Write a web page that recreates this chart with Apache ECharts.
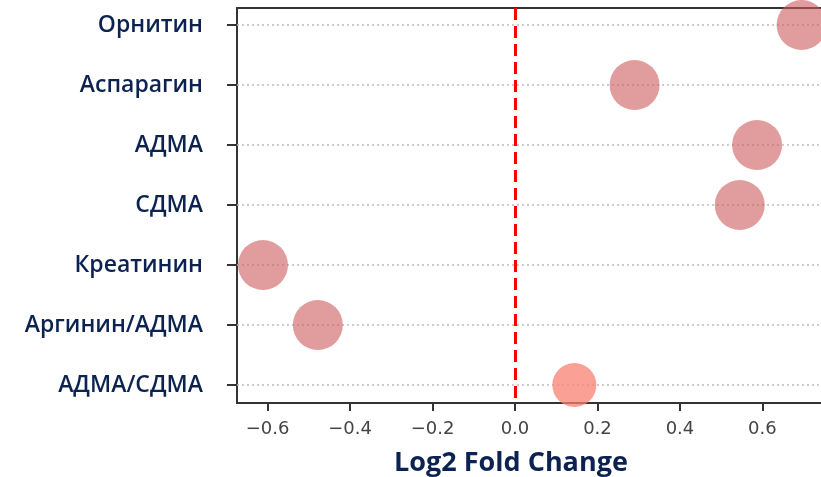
<!DOCTYPE html>
<html>
<head>
<meta charset="utf-8">
<script src="https://cdn.jsdelivr.net/npm/echarts@6/dist/echarts.min.js"></script>
<style>
  html, body { margin: 0; padding: 0; background: #fff; }
  #chart { width: 821px; height: 477px; }
</style>
</head>
<body>
<div id="chart"></div>
<script>
// Metabolites, top to bottom
const categories = ['Орнитин', 'Аспарагин', 'АДМА', 'СДМА', 'Креатинин', 'Аргинин/АДМА', 'АДМА/СДМА'];
// log2 fold change per metabolite
const foldChange = [0.695, 0.290, 0.587, 0.545, -0.611, -0.478, 0.144];
// marker diameters
const markerSize = [50, 50, 50, 50, 50, 50, 44];
// marker colours
const markerColor = [
  'rgba(205,92,92,0.6)', 'rgba(205,92,92,0.6)', 'rgba(205,92,92,0.6)', 'rgba(205,92,92,0.6)',
  'rgba(205,92,92,0.6)', 'rgba(205,92,92,0.6)', 'rgba(250,128,114,0.75)'
];
// x-axis tick values
const xTicks = [-0.6, -0.4, -0.2, 0.0, 0.2, 0.4, 0.6];
const yTicks = categories.map((_, i) => i);

const navy = '#0c2352';
const frame = '#333333';

const points = foldChange.map((v, i) => ({
  value: [v, i],
  symbolSize: markerSize[i],
  itemStyle: { color: markerColor[i], opacity: 1 }
}));

const chart = echarts.init(document.getElementById('chart'), null, { renderer: 'canvas' });
chart.setOption({
  animation: false,
  grid: { left: 237, right: 0, top: 8, bottom: 74, containLabel: false, outerBoundsMode: 'none' },
  xAxis: [{
    type: 'value',
    min: -0.674,
    max: 0.742,
    position: 'bottom',
    name: 'Log2 Fold Change',
    nameLocation: 'middle',
    nameGap: 47,
    nameTextStyle: {
      fontFamily: 'Open Sans', fontWeight: 'bold', fontSize: 27, color: navy,
      padding: [0, 36, 0, 0]
    },
    axisLine: { show: true, onZero: false, lineStyle: { color: frame, width: 2 } },
    axisTick: { show: true, length: 8, lineStyle: { color: frame, width: 2 }, customValues: xTicks },
    axisLabel: {
      customValues: xTicks,
      margin: 17,
      fontFamily: 'DejaVu Sans', fontSize: 18, color: '#444',
      formatter: v => (v < 0 ? '\u2212' : '') + Math.abs(v).toFixed(1)
    },
    splitLine: { show: false }
  }, {
    type: 'value',
    min: -0.674,
    max: 0.742,
    position: 'top',
    axisLine: { show: true, onZero: false, lineStyle: { color: frame, width: 2 } },
    axisTick: { show: false },
    axisLabel: { show: false },
    splitLine: { show: false }
  }],
  yAxis: {
    type: 'value',
    inverse: true,
    min: -0.283,
    max: 6.3,
    axisLine: { show: true, onZero: false, lineStyle: { color: frame, width: 2 } },
    axisTick: { show: true, length: 10, lineStyle: { color: frame, width: 2 }, customValues: yTicks },
    axisLabel: {
      customValues: yTicks,
      margin: 34,
      fontFamily: 'Open Sans', fontWeight: 600, fontSize: 23, color: navy,
      formatter: v => categories[Math.round(v)] || ''
    },
    splitLine: { show: false }
  },
  series: [{
    type: 'scatter',
    xAxisIndex: 0,
    symbol: 'circle',
    data: points,
    z: 3,
    markLine: {
      silent: true,
      symbol: 'none',
      label: { show: false },
      z: 2,
      data: yTicks.map(i => ({ yAxis: i, lineStyle: { color: '#bdbdbd', width: 1.5, type: [2, 3] } }))
        .concat([{ xAxis: 0, lineStyle: { color: '#ff0000', width: 3, type: [12, 6] } }])
    }
  }]
});
</script>
</body>
</html>
